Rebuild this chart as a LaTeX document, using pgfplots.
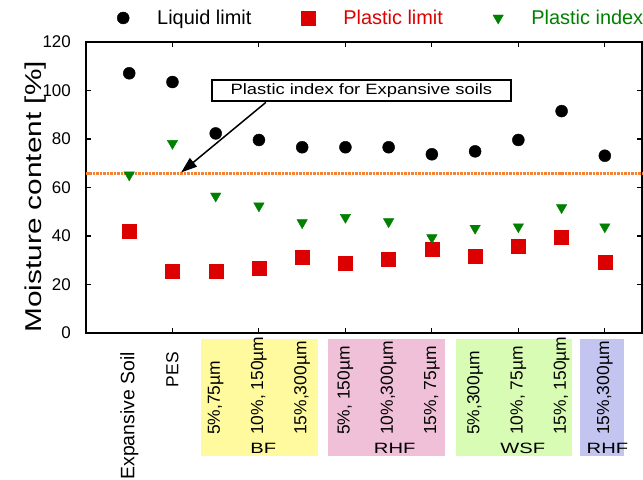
\documentclass[border=0pt]{standalone}
\usepackage{fontspec}
\setmainfont{Liberation Sans}
\usepackage{graphicx}
\usepackage{pgfplots}
\pgfplotsset{compat=1.18}
\usetikzlibrary{arrows.meta}
\definecolor{myred}{RGB}{221,0,0}
\definecolor{mygreen}{RGB}{0,128,0}
\definecolor{myorange}{RGB}{245,130,50}
\definecolor{byellow}{RGB}{255,250,158}
\definecolor{bpink}{RGB}{240,192,216}
\definecolor{bgreen}{RGB}{216,252,180}
\definecolor{bblue}{RGB}{196,196,240}
\newcommand{\rl}[1]{\rotatebox{90}{#1}}
\begin{document}
\begin{tikzpicture}
\useasboundingbox (-86bp,-147bp) rectangle (557bp,333bp);
\fill[byellow] (115bp,-6bp) rectangle (232bp,-123bp);
\fill[bpink] (242bp,-6bp) rectangle (359bp,-123bp);
\fill[bgreen] (370bp,-6bp) rectangle (486bp,-123bp);
\fill[bblue] (494bp,-6bp) rectangle (538bp,-123bp);
\begin{axis}[
  at={(0,0)}, anchor=south west,
  scale only axis, width=556bp, height=291bp,
  xmin=-1, xmax=11.86, ymin=0, ymax=120,
  clip=false,
  axis line style={line width=1.4bp},
  every tick/.style={black, line width=1.1bp},
  major tick length=5bp, minor tick length=5bp,
  ytick={0,20,...,120},
  yticklabel style={inner sep=0pt, xshift=-15bp, font=\fontsize{17}{20}\selectfont},
  /pgf/number format/assume math mode=true,
  xtick={0,1},
  xticklabels={\rl{\fontsize{19.5}{22}\selectfont Expansive Soil}, \rl{PES}},
  major x tick style={draw=none},
  minor xtick={1,3,5,7,9,11},
  xticklabel style={inner sep=0pt, anchor=north, yshift=-19bp, font=\fontsize{17.5}{20}\selectfont},
  extra x ticks={2,3,4,5,6,7,8,9,10,11},
  extra x tick labels={\rl{5\%,75µm},\rl{10\%, 150µm},\rl{15\%,300µm},\rl{5\%, 150µm},\rl{10\%,300µm},\rl{15\%, 75µm},\rl{5\%,300µm},\rl{10\%, 75µm},\rl{15\%, 150µm},\rl{15\%,300µm}},
  extra x tick style={major x tick style={draw=none}, xticklabel style={anchor=south, yshift=-83bp}},
  ylabel={\scalebox{1.3}[1]{Moisture content [\%]}},
  ylabel style={at={(axis description cs:-0.071,0.468)}, anchor=south, inner sep=0pt, font=\fontsize{23}{27}\selectfont},
  legend columns=3,
  legend cell align=left,
  legend image code/.code={\draw[#1] plot coordinates {(0bp,0bp)};},
  legend style={at={(axis description cs:0.0558,1.0825)}, anchor=west, draw=none, fill=none, inner sep=0pt,
    nodes={inner sep=0pt}, font=\fontsize{20}{24}\selectfont,
    /tikz/every odd column/.append style={column sep=28bp},
    /tikz/every even column/.append style={column sep=50bp}},
]
\node[font=\fontsize{15}{18}\selectfont] at (axis cs:3.1,-47.4) {\scalebox{1.35}[1]{BF}};
\node[font=\fontsize{15}{18}\selectfont] at (axis cs:6.14,-47.4) {\scalebox{1.35}[1]{RHF}};
\node[font=\fontsize{15}{18}\selectfont] at (axis cs:9.1,-47.4) {\scalebox{1.35}[1]{WSF}};
\node[font=\fontsize{15}{18}\selectfont] at (axis cs:11.06,-47.4) {\scalebox{1.35}[1]{RHF}};

\addplot[only marks, mark=*, mark size=6bp, black] coordinates {
(0,107.1) (1,103.5) (2,82.3) (3,79.6) (4,76.6) (5,76.6) (6,76.6) (7,73.7) (8,74.9) (9,79.6) (10,91.5) (11,73.1)};
\addlegendentry{Liquid limit}
\addplot[only marks, mark=square*, mark size=7bp, myred] coordinates {
(0,41.8) (1,25.3) (2,25.3) (3,26.9) (4,31.1) (5,28.7) (6,30.4) (7,34.5) (8,31.5) (9,35.6) (10,39.7) (11,29.4)};
\addlegendentry{\textcolor{myred}{Plastic limit}}
\addplot[only marks, mark=triangle*, mark size=6bp, mygreen, mark options={rotate=180}] coordinates {
(0,65.2) (1,78.2) (2,56.5) (3,52.4) (4,45.5) (5,47.7) (6,45.9) (7,39.3) (8,43.2) (9,43.8) (10,51.7) (11,43.8)};
\addlegendentry{\textcolor{mygreen}{Plastic index}}
\addplot[forget plot, myorange, line width=2.5bp, densely dotted] coordinates {(-1,65.7) (11.86,65.7)};

\node[draw, line width=2.5bp, minimum width=299bp, minimum height=21bp, inner sep=0pt, fill=white,
  font=\fontsize{15}{18}\selectfont] at (axis cs:5.37,100) {\scalebox{1.23}[1]{Plastic index for Expansive soils}};
\draw[line width=1.5bp, -{Triangle[length=16bp,width=11bp]}] (axis cs:3.16,95.1) -- (axis cs:1.2,66.2);
\end{axis}
\end{tikzpicture}
\end{document}
